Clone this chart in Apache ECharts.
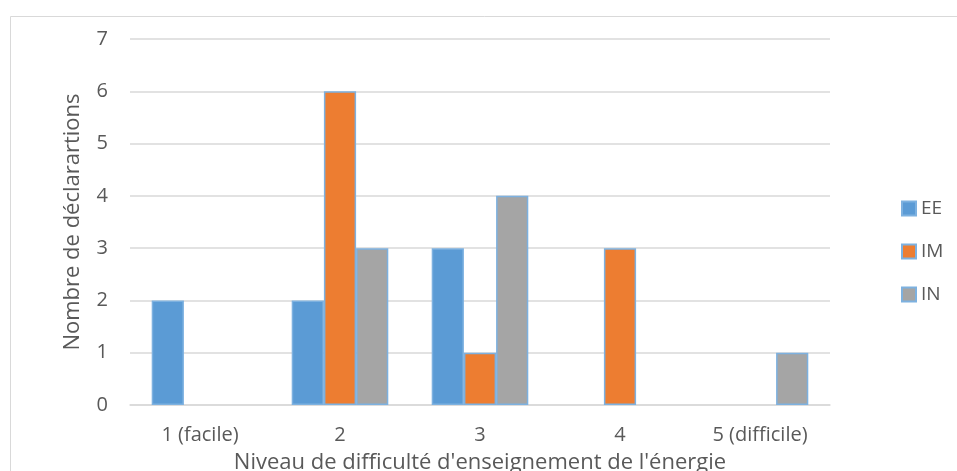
<!DOCTYPE html>
<html>
<head>
<meta charset="utf-8">
<script src="https://cdn.jsdelivr.net/npm/echarts@6/dist/echarts.min.js"></script>
<style>
  html, body { margin: 0; padding: 0; background: #fff; }
  #chart { width: 957px; height: 471px; }
</style>
</head>
<body>
<div id="chart"></div>
<script>
// niveaux de difficulté
const categories = ['1 (facile)', '2', '3', '4', '5 (difficile)'];
const seriesNames = ['EE', 'IM', 'IN'];
const valuesEE = [2, 2, 3, null, null];
const valuesIM = [null, 6, 1, 3, null];
const valuesIN = [null, 3, 4, null, 1];

const colors = ['#5B9BD5', '#ED7D31', '#A5A5A5'];
const txt = '#595959';
const font = '"Open Sans", "Noto Sans", sans-serif';

const chart = echarts.init(document.getElementById('chart'));

const mkSeries = (name, data, i) => ({
  name: name,
  type: 'bar',
  data: data,
  barGap: '0%',
  barCategoryGap: '31%',
  itemStyle: {
    color: colors[i],
    borderColor: '#7DB1E0',
    borderWidth: 1.5
  }
});

chart.setOption({
  animation: false,
  textStyle: { fontFamily: font },
  graphic: [{
    type: 'rect',
    shape: { x: 10.5, y: 16.5, width: 1000, height: 500 },
    style: { fill: 'none', stroke: '#D9D9D9', lineWidth: 1 },
    silent: true
  }],
  grid: { left: 130, right: 127, top: 39, bottom: 66, outerBoundsMode: 'none', containLabel: false },
  legend: {
    orient: 'vertical',
    left: 896,
    top: 194,
    itemGap: 24,
    itemWidth: 14,
    itemHeight: 14,
    icon: 'rect',
    textStyle: { color: txt, fontSize: 19, fontFamily: font },
    data: seriesNames
  },
  xAxis: {
    type: 'category',
    data: categories,
    name: "Niveau de difficulté d'enseignement de l'énergie",
    nameLocation: 'middle',
    nameGap: 47,
    nameTextStyle: { color: txt, fontSize: 22, fontFamily: font },
    axisLine: { lineStyle: { color: '#D9D9D9', width: 1.5 } },
    axisTick: { show: false },
    axisLabel: { color: txt, fontSize: 20, margin: 20, fontFamily: font }
  },
  yAxis: {
    type: 'value',
    min: 0,
    max: 7,
    interval: 1,
    name: 'Nombre de déclarartions',
    nameLocation: 'middle',
    nameGap: 46,
    nameTextStyle: { color: txt, fontSize: 22, fontFamily: font },
    axisLine: { show: false },
    axisTick: { show: false },
    axisLabel: { color: txt, fontSize: 20, margin: 22, fontFamily: font },
    splitLine: { lineStyle: { color: '#D9D9D9', width: 1.5 } }
  },
  series: [
    mkSeries('EE', valuesEE, 0),
    mkSeries('IM', valuesIM, 1),
    mkSeries('IN', valuesIN, 2)
  ]
});
</script>
</body>
</html>
